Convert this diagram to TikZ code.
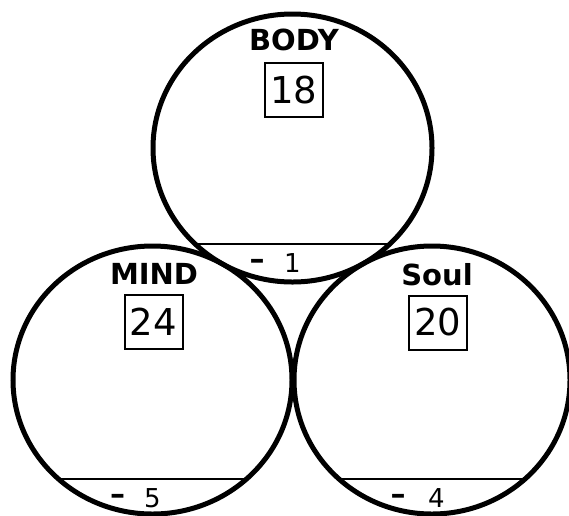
\documentclass[tikz,border=0pt]{standalone}
\usepackage{fontspec}
\setmainfont{DejaVu Sans}
\begin{document}
\begin{tikzpicture}[x=1pt,y=-1pt]
\tikzset{
 ring/.style={line width=5pt},
 chord/.style={line width=2.8pt},
 title/.style={font=\fontsize{29}{29}\selectfont\bfseries, anchor=base, inner sep=0pt},
 score/.style={draw, line width=2pt, minimum width=58pt, minimum height=54pt, inner sep=0pt, font=\fontsize{37}{37}\selectfont},
 minus/.style={anchor=base west, inner sep=0pt, font=\fontsize{26}{26}\selectfont}
}
\newcommand{\mydash}{{\fontsize{30}{30}\selectfont\bfseries\raisebox{2.5pt}{–}}}
\useasboundingbox (0,0) rectangle (569,515);
\coordinate (cb) at (292.5,148);
\coordinate (cm) at (152.5,380);
\coordinate (cs) at (432,380);
\draw[ring] (cb) ellipse [x radius=139.5pt, y radius=134pt];
\draw[ring] (cm) ellipse [x radius=139.5pt, y radius=134pt];
\draw[ring] (cs) ellipse [x radius=138pt, y radius=134pt];
\begin{scope}
 \clip (cb) ellipse [x radius=139.5pt, y radius=134pt];
 \draw[chord] (100,244) -- (480,244);
\end{scope}
\begin{scope}
 \clip (cm) ellipse [x radius=139.5pt, y radius=134pt];
 \draw[chord] (0,479) -- (300,479);
\end{scope}
\begin{scope}
 \clip (cs) ellipse [x radius=138pt, y radius=134pt];
 \draw[chord] (290,479) -- (569,479);
\end{scope}
\node[title] (tb) at (294,50) {BODY};
\node[title] (tm) at (154,284) {MIND};
\node[title] (ts) at (437,285) {Soul};
\node[score] (sb) at (294,90) {18};
\node[score] (sm) at (153.5,321.5) {24};
\node[score] (ss) at (438,322.5) {20};
\node[minus] (db) at (249.5,272) {\mydash\hspace{19.5pt}1};
\node[minus] (dm) at (110,507) {\mydash\hspace{19pt}5};
\node[minus] (ds) at (390.5,507) {\mydash\hspace{22.5pt}4};
\end{tikzpicture}
\end{document}
